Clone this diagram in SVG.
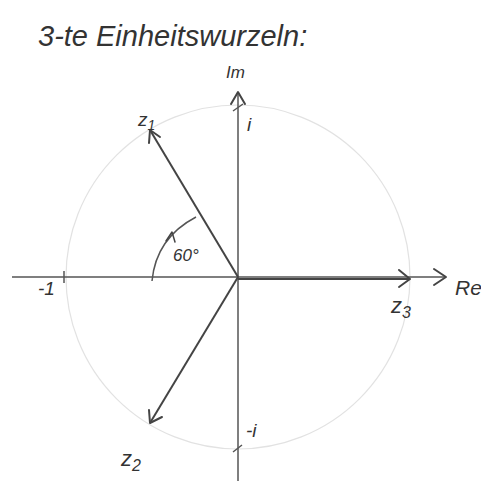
<svg xmlns="http://www.w3.org/2000/svg" width="481" height="481" viewBox="0 0 481 481">
<style>
.ax{stroke:#555;stroke-width:1.5;fill:none}
.vec{stroke:#444;stroke-width:2;fill:none}
.hd{stroke:#444;stroke-width:2;fill:none;stroke-linecap:round;stroke-linejoin:round}
.t{font-family:"Liberation Sans",sans-serif;fill:#333;font-style:italic}
</style>
<rect width="481" height="481" fill="#fff"/>
<circle cx="238" cy="277" r="172" fill="none" stroke="#e2e2e2" stroke-width="1.2"/>
<g id="connectors">
<line class="ax" x1="12" y1="277" x2="446" y2="277"/>
<polyline class="hd" points="434,269 446,277 434,285"/>
<line class="ax" x1="238" y1="481" x2="238" y2="92"/>
<polyline class="hd" points="231,104 238,92 245,104"/>
<line class="ax" x1="64" y1="271" x2="64" y2="283"/>
<path class="ax" d="M233,111 L243,104 M233,452 L242,445"/>
<line class="vec" x1="238" y1="277" x2="150" y2="130"/>
<polyline class="hd" points="149,143 150,130 160,137"/>
<line class="vec" x1="238" y1="277" x2="150" y2="423"/>
<polyline class="hd" points="149,410 150,423 162,417"/>
<line class="vec" x1="238" y1="279" x2="410" y2="279"/>
<polyline class="hd" points="399,270 410,279 399,287"/>
<path class="ax" d="M152,281 Q156,238 196,217"/>
<polyline class="hd" points="166,241 172,232 175,242" style="stroke-width:1.5"/>
</g>
<g id="labels">
<text class="t" x="38" y="46" font-size="29">3-te Einheitswurzeln:</text>
<text class="t" x="226" y="78" font-size="17">Im</text>
<text class="t" x="247" y="131" font-size="19">i</text>
<text class="t" x="138" y="126" font-size="19">z<tspan font-size="14" dy="4">1</tspan></text>
<text class="t" x="173" y="261" font-size="17">60°</text>
<text class="t" x="38" y="295" font-size="19">-1</text>
<text class="t" x="455" y="295" font-size="21">Re</text>
<text class="t" x="391" y="313" font-size="22">z<tspan font-size="16" dy="5">3</tspan></text>
<text class="t" x="246" y="437" font-size="19">-i</text>
<text class="t" x="121" y="466" font-size="22">z<tspan font-size="16" dy="5">2</tspan></text>
</g>
</svg>
